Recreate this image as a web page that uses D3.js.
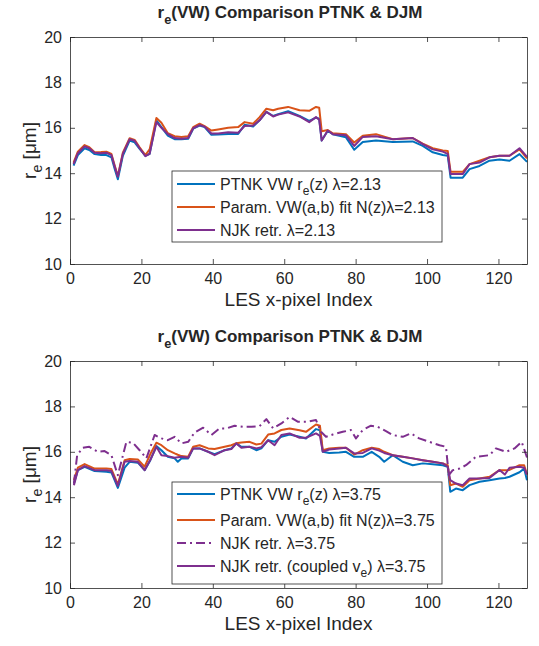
<!DOCTYPE html>
<html>
<head>
<meta charset="utf-8">
<script src="https://cdn.jsdelivr.net/npm/d3@7"></script>
<style>
  body { margin: 0; background: #fff; }
  svg text { font-family: "Liberation Sans", Arial, Helvetica, sans-serif; fill: #262626; }
</style>
</head>
<body>
<div id="chart"></div>
<script>
// x positions and values (lambda = 2.13)
let topX = [1, 2.2, 4.1, 5.4, 6.9, 8.7, 10.2, 11.6, 12.5, 13.4, 14.8, 16.7, 18.1, 19.5, 21.1,
  22.3, 24.2, 25.6, 27.4, 29.3, 31.2, 33.1, 34.5, 36.3, 37.7, 39.6, 41.5, 44.3, 47.1, 48.9,
  51.3, 53.1, 55, 56.9, 58.3, 61.1, 64.3, 67, 68.9, 69.8, 70.5, 72.2, 73.6, 77.3, 79.6,
  82, 85.7, 90.4, 96, 98.8, 101.6, 104.4, 105.8, 106.6, 110, 111.9, 114.7, 117.5, 120.3, 123.1,
  125.9, 128];
let topPTNK = [14.33, 14.8, 15.1, 15.02, 14.84, 14.8, 14.8, 14.7, 14.2, 13.73, 14.77, 15.44, 15.36, 15.07, 14.77,
  14.85, 16.33, 16.03, 15.66, 15.5, 15.5, 15.52, 15.96, 16.1, 16.03, 15.69, 15.7, 15.73, 15.73, 16.13,
  16.06, 16.33, 16.7, 16.52, 16.6, 16.73, 16.52, 16.3, 16.45, 16.4, 15.44, 15.87, 15.72, 15.58, 15.03,
  15.37, 15.44, 15.37, 15.4, 15.2, 14.92, 14.8, 14.77, 13.8, 13.8, 14.18, 14.32, 14.55, 14.6, 14.55,
  14.84, 14.5];
let topParam = [14.47, 14.95, 15.24, 15.15, 14.92, 14.93, 14.95, 14.85, 14.35, 13.88, 14.9, 15.54, 15.47, 15.14, 14.8,
  15.05, 16.43, 16.22, 15.76, 15.63, 15.6, 15.63, 16.03, 16.18, 16.07, 15.88, 15.93, 16.0, 16.03, 16.25,
  16.18, 16.47, 16.84, 16.77, 16.84, 16.92, 16.77, 16.75, 16.92, 16.88, 15.85, 15.9, 15.76, 15.72, 15.35,
  15.65, 15.72, 15.5, 15.55, 15.3, 15.1, 15.0, 14.98, 14.06, 14.06, 14.4, 14.55, 14.7, 14.77, 14.77,
  15.05, 14.65];
let topNJK = [14.4, 14.88, 15.18, 15.1, 14.9, 14.88, 14.9, 14.8, 14.3, 13.85, 14.85, 15.5, 15.43, 15.1, 14.75,
  14.85, 16.25, 16.0, 15.72, 15.55, 15.52, 15.55, 15.98, 16.12, 16.05, 15.75, 15.75, 15.8, 15.78, 16.08,
  16.1, 16.33, 16.7, 16.5, 16.58, 16.68, 16.5, 16.25, 16.47, 16.35, 15.44, 15.88, 15.72, 15.67, 15.2,
  15.6, 15.63, 15.5, 15.55, 15.28, 15.05, 14.95, 14.85, 13.96, 13.96, 14.4, 14.47, 14.7, 14.77, 14.77,
  15.1, 14.72];

// bottom panel (lambda = 3.75)
let botX = [1.1, 2.2, 4.1, 6.9, 10.2, 11.6, 13.4, 15.3, 16.7, 19.0, 20.9, 22.5, 24.2, 25.6, 27.4,
  29.3, 30.2, 31.2, 33.1, 34.5, 36.3, 38.7, 40.5, 43.3, 45.2, 46.6, 48, 50.3, 52.2, 53.6,
  55.5, 57.3, 59.2, 61.5, 64.3, 66.1, 68.9, 70.0, 70.8, 72.6, 75.4, 77.3, 79.6, 82, 84.5,
  86.6, 88, 90.4, 93.2, 96, 98.8, 101.6, 104.4, 105.8, 106.5, 108.1, 110, 111.9, 114.7, 117.5,
  120.3, 121.8, 123.1, 125.9, 127.2, 128];
let botPTNK = [14.6, 15.19, 15.34, 15.15, 15.12, 15.09, 14.41, 15.3, 15.56, 15.52, 15.19, 15.63, 16.25, 16.07, 15.78,
  15.71, 15.56, 15.7, 15.71, 16.15, 16.15, 16.0, 15.9, 16.07, 16.15, 16.37, 16.22, 16.22, 16.07, 16.15,
  16.51, 16.44, 16.66, 16.76, 16.66, 16.59, 17.0, 16.95, 16.0, 15.95, 15.97, 16.0, 15.78, 15.78, 16.0,
  15.78, 15.56, 15.85, 15.56, 15.41, 15.49, 15.45, 15.41, 15.34, 14.24, 14.38, 14.31, 14.53, 14.68, 14.75,
  14.82, 14.85, 14.9, 15.1, 15.26, 14.75];
let botParam = [14.75, 15.3, 15.46, 15.26, 15.26, 15.24, 14.56, 15.63, 15.68, 15.66, 15.34, 15.9, 16.4, 16.29, 16.07,
  15.93, 15.87, 15.81, 15.78, 16.22, 16.29, 16.15, 16.12, 16.22, 16.29, 16.38, 16.41, 16.44, 16.32, 16.36,
  16.76, 16.81, 16.96, 17.03, 16.95, 16.88, 17.2, 17.15, 16.07, 16.15, 16.18, 16.18, 15.88, 16.07, 16.18,
  16.12, 16.0, 15.85, 15.78, 15.71, 15.63, 15.56, 15.49, 15.41, 14.53, 14.6, 14.46, 14.75, 14.82, 14.9,
  15.19, 15.19, 15.2, 15.41, 15.41, 15.0];
let botNJKc = [14.53, 15.19, 15.37, 15.19, 15.19, 15.15, 14.5, 15.56, 15.59, 15.56, 15.19, 15.65, 16.22, 15.85, 15.81,
  15.74, 15.76, 15.78, 15.74, 16.15, 16.15, 16.0, 15.85, 16.07, 16.12, 16.37, 16.18, 16.22, 16.15, 16.2,
  16.51, 16.29, 16.74, 16.81, 16.62, 16.62, 16.81, 16.7, 16.0, 16.1, 16.15, 16.18, 15.93, 15.95, 16.15,
  16.05, 15.95, 15.85, 15.78, 15.71, 15.63, 15.56, 15.49, 15.34, 14.75, 14.6, 14.53, 14.82, 14.82, 14.85,
  15.2, 15.0, 15.3, 15.34, 15.3, 15.0];
// the dash-dot NJK curve has its own x positions
let ddX = [1.1, 2.0, 3.6, 5.4, 7.8, 9.7, 11.6, 13.4, 15.8, 17.6, 19.5, 21.4, 23.7, 25.6, 27.4,
  29.3, 31.2, 33.1, 34.9, 37.3, 39.6, 41.9, 43.8, 46.1, 48.5, 50.8, 53.1, 55, 56.9, 59.2,
  61.5, 63.9, 66.1, 68.9, 70.3, 71.7, 73.6, 76.4, 78.7, 80.1, 82, 84.3, 86.2, 88.5, 90.4,
  93.2, 95.5, 97.8, 100.6, 103.5, 105.3, 106.1, 107.2, 109.1, 110.9, 113.7, 117.5, 119.3, 122.1, 124.5,
  126.5, 128];
let ddNJK = [14.6, 15.85, 16.18, 16.22, 16.0, 16.03, 15.85, 14.97, 16.44, 16.4, 16.07, 15.71, 16.74, 16.59, 16.51,
  16.66, 16.37, 16.44, 16.85, 17.06, 16.74, 17.03, 17.03, 17.15, 17.1, 17.1, 17.13, 17.44, 17.03, 17.25,
  17.54, 17.32, 17.32, 17.4, 16.88, 16.66, 16.76, 16.88, 16.96, 16.59, 16.96, 17.15, 17.1, 16.91, 16.74,
  16.66, 16.81, 16.59, 16.44, 16.29, 16.22, 14.97, 15.19, 15.26, 15.41, 15.78, 15.85, 16.15, 16.0, 16.15,
  16.44, 15.75];

let xTicks = [0, 20, 40, 60, 80, 100, 120];
let yTicks = [10, 12, 14, 16, 18, 20];

let blue = "#0072BD", orange = "#D95319", purple = "#7E2F8E";

let svg = d3.select("#chart").append("svg")
  .attr("width", 539)
  .attr("height", 646);

// text parts: [string, isSubscript]
function richText(sel, parts, shift) {
  let sub = false;
  parts.forEach(p => {
    let t = sel.append("tspan").text(p[0]);
    if (p[1] && !sub) { t.attr("dy", shift).attr("font-size", "0.75em"); sub = true; }
    else if (!p[1] && sub) { t.attr("dy", -shift); sub = false; }
  });
}

function drawPanel(top, series, legendRows, legendBox) {
  let left = 70, right = 527, bottom = top + 227;

  let x = d3.scaleLinear().domain([0, 128]).range([left, right]);
  let y = d3.scaleLinear().domain([10, 20]).range([bottom, top]);

  let g = svg.append("g");

  // lines
  series.forEach(s => {
    let pts = s.x.map((d, i) => [d, s.y[i]]);
    g.append("path")
      .datum(pts)
      .attr("fill", "none")
      .attr("stroke", s.color)
      .attr("stroke-width", 2)
      .attr("stroke-linejoin", "round")
      .attr("stroke-dasharray", s.dash || null)
      .attr("d", d3.line().x(d => x(d[0])).y(d => y(d[1])));
  });

  // axes, MATLAB style box with inward ticks
  let axisStyle = a => {
    a.selectAll("path").attr("stroke", "#262626").attr("stroke-width", 0.8);
    a.selectAll("line").attr("stroke", "#262626").attr("stroke-width", 0.8);
    a.selectAll("text").attr("font-size", 16).attr("fill", "#262626")
      .attr("font-family", "Liberation Sans, Arial, sans-serif");
  };

  g.append("g").attr("transform", `translate(0,${bottom})`)
    .call(d3.axisBottom(x).tickValues(xTicks).tickSizeInner(-5).tickSizeOuter(0).tickPadding(9))
    .call(axisStyle);
  g.append("g").attr("transform", `translate(0,${top})`)
    .call(d3.axisTop(x).tickValues(xTicks).tickSizeInner(-5).tickSizeOuter(0).tickFormat(""))
    .call(axisStyle);
  g.append("g").attr("transform", `translate(${left},0)`)
    .call(d3.axisLeft(y).tickValues(yTicks).tickSizeInner(-5).tickSizeOuter(0).tickPadding(8))
    .call(axisStyle);
  g.append("g").attr("transform", `translate(${right},0)`)
    .call(d3.axisRight(y).tickValues(yTicks).tickSizeInner(-5).tickSizeOuter(0).tickFormat(""))
    .call(axisStyle);

  // title
  let title = g.append("text")
    .attr("x", 290)
    .attr("y", top - 19)
    .attr("text-anchor", "middle")
    .attr("font-size", 17)
    .attr("font-weight", "bold")
    .attr("fill", "#000");
  richText(title, [["r"], ["e", true], ["(VW) Comparison PTNK & DJM"]], 6);

  // axis labels
  g.append("text")
    .attr("x", (left + right) / 2)
    .attr("y", bottom + 42)
    .attr("text-anchor", "middle")
    .attr("font-size", 19)
    .text("LES x-pixel Index");

  let ylab = g.append("text")
    .attr("transform", `translate(36,${(top + bottom) / 2}) rotate(-90)`)
    .attr("text-anchor", "middle")
    .attr("font-size", 19);
  richText(ylab, [["r"], ["e", true], [" [μm]"]], 6);

  // legend
  g.append("rect")
    .attr("x", legendBox.x).attr("y", legendBox.y)
    .attr("width", legendBox.w).attr("height", legendBox.h)
    .attr("fill", "#fff")
    .attr("stroke", "#262626")
    .attr("stroke-width", 0.8);

  legendRows.forEach(r => {
    g.append("line")
      .attr("x1", legendBox.x + 5).attr("x2", legendBox.x + 43)
      .attr("y1", r.y).attr("y2", r.y)
      .attr("stroke", r.color)
      .attr("stroke-width", 2)
      .attr("stroke-dasharray", r.dash || null);
    let t = g.append("text")
      .attr("x", legendBox.x + 48)
      .attr("y", r.y + 6)
      .attr("font-size", 16)
      .attr("fill", "#000");
    richText(t, r.parts, 5);
  });
}

drawPanel(37,
  [
    { x: topX, y: topPTNK, color: blue },
    { x: topX, y: topParam, color: orange },
    { x: topX, y: topNJK, color: purple }
  ],
  [
    { y: 184, color: blue, parts: [["PTNK VW r"], ["e", true], ["(z) λ=2.13"]] },
    { y: 207, color: orange, parts: [["Param. VW(a,b) fit N(z)λ=2.13"]] },
    { y: 230, color: purple, parts: [["NJK retr.  λ=2.13"]] }
  ],
  { x: 172, y: 171, w: 270, h: 71 });

drawPanel(361,
  [
    { x: botX, y: botPTNK, color: blue },
    { x: botX, y: botParam, color: orange },
    { x: ddX, y: ddNJK, color: purple, dash: "9,4,2,4" },
    { x: botX, y: botNJKc, color: purple }
  ],
  [
    { y: 494, color: blue, parts: [["PTNK VW r"], ["e", true], ["(z) λ=3.75"]] },
    { y: 520, color: orange, parts: [["Param. VW(a,b) fit N(z)λ=3.75"]] },
    { y: 543, color: purple, dash: "9,4,2,4", parts: [["NJK retr.  λ=3.75"]] },
    { y: 566, color: purple, parts: [["NJK retr. (coupled v"], ["e", true], [") λ=3.75"]] }
  ],
  { x: 172, y: 482, w: 270, h: 102 });
</script>
</body>
</html>
